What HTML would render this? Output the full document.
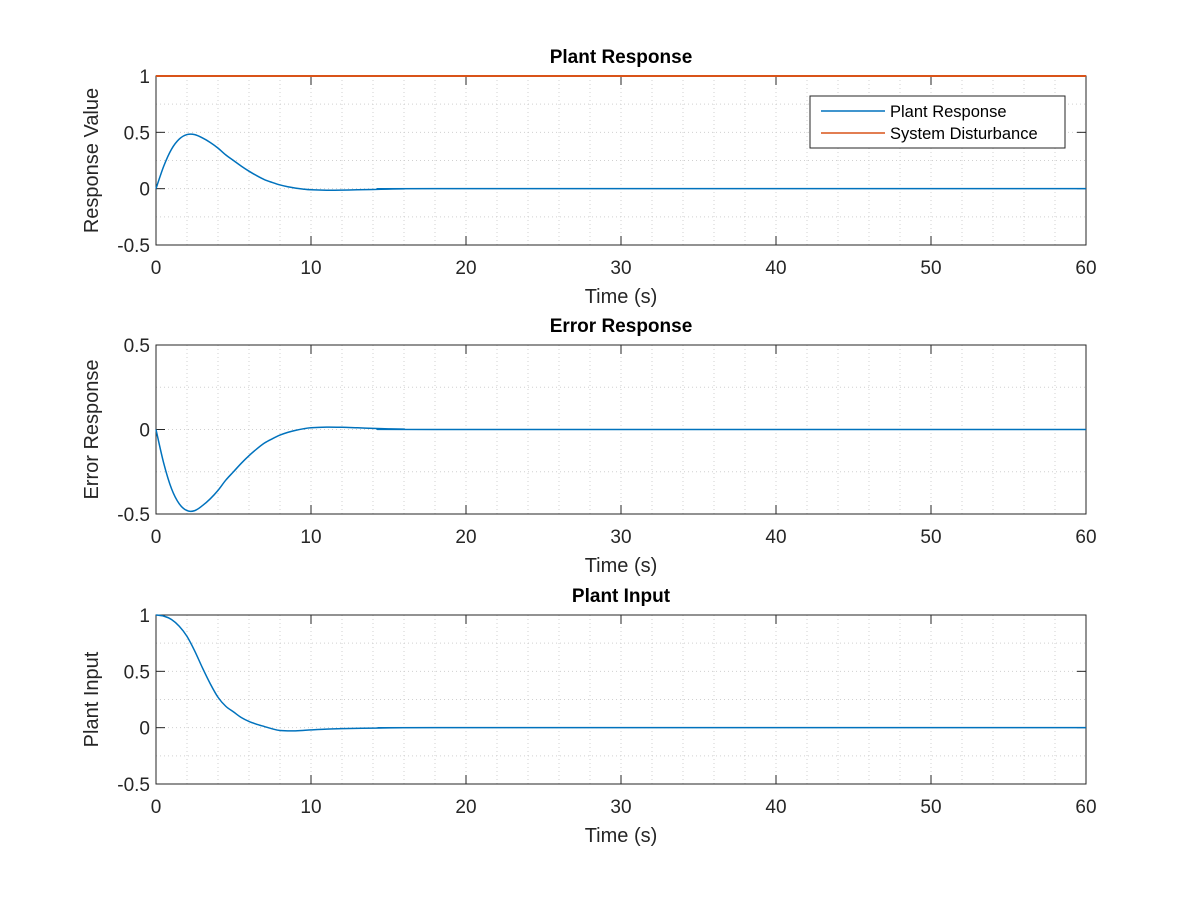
<!DOCTYPE html>
<html><head><meta charset="utf-8"><style>
body{margin:0;background:#fff}
svg{display:block;font-family:"Liberation Sans",Arial,sans-serif}
</style></head><body>
<svg id="fig" width="1200" height="900"></svg>
<script>
const timeValues=[0,0.5,1,1.5,2,2.5,3,3.5,4,4.5,5,5.5,6,6.5,7,7.5,8,8.5,9,9.5,10,11,12,13,14,15,16,18,60];
const plantResponse=[0,0.2,0.35,0.44,0.48,0.48,0.45,0.41,0.36,0.30,0.25,0.20,0.155,0.115,0.08,0.055,0.033,0.017,0.005,-0.004,-0.01,-0.014,-0.013,-0.01,-0.007,-0.004,-0.002,0,0];
const errorResponse=plantResponse.map(v=>-v);
const inputTime=[0,0.5,1,1.5,2,2.5,3,3.5,4,4.5,5,5.5,6,6.5,7,7.5,8,9,10,11,12,14,16,18,60];
const plantInput=[1,0.99,0.96,0.9,0.81,0.68,0.53,0.39,0.27,0.19,0.14,0.09,0.055,0.03,0.01,-0.01,-0.025,-0.028,-0.02,-0.013,-0.009,-0.004,-0.001,0,0];
const disturbanceTime=[0,60];
const disturbance=[1,1];
const xTicks=[0,10,20,30,40,50,60];
const yTicksA=[-0.5,0,0.5,1];
const yTicksB=[-0.5,0,0.5];

const NS="http://www.w3.org/2000/svg";
const svg=document.getElementById('fig');
function el(tag,attrs,parent){const e=document.createElementNS(NS,tag);for(const k in attrs)e.setAttribute(k,attrs[k]);(parent||svg).appendChild(e);return e;}
const L=156,R=1086;
function xs(t){return L+(t-0)/60*(R-L);}
function smoothPath(pts){
  let d='M'+pts[0][0].toFixed(2)+' '+pts[0][1].toFixed(2);
  for(let i=0;i<pts.length-1;i++){
    const p0=pts[Math.max(0,i-1)],p1=pts[i],p2=pts[i+1],p3=pts[Math.min(pts.length-1,i+2)];
    let c1x=p1[0]+(p2[0]-p0[0])/6,c1y=p1[1]+(p2[1]-p0[1])/6;
    let c2x=p2[0]-(p3[0]-p1[0])/6,c2y=p2[1]-(p3[1]-p1[1])/6;
    if(p2[0]-p1[0]>100){c1x=p1[0];c1y=p1[1];c2x=p2[0];c2y=p2[1];}
    d+=` C${c1x.toFixed(2)} ${c1y.toFixed(2)} ${c2x.toFixed(2)} ${c2y.toFixed(2)} ${p2[0].toFixed(2)} ${p2[1].toFixed(2)}`;
  }
  return d;
}
function panel(name,top,bottom,ymin,ymax,yTicks,title,ylabel,series){
  const g=el('g',{});
  
  
  const ys=v=>bottom-(v-ymin)/(ymax-ymin)*(bottom-top);
  for(let t=2;t<60;t+=2){const l=el('line',{x1:xs(t),x2:xs(t),y1:top,y2:bottom,stroke:'#d0d0d0','stroke-dasharray':'1 3','stroke-width':1},g);
    }
  for(let v=ymin+0.25;v<ymax-0.01;v+=0.25){const l=el('line',{x1:L,x2:R,y1:ys(v),y2:ys(v),stroke:'#d0d0d0','stroke-dasharray':'1 3','stroke-width':1},g);
    }
  const b=el('rect',{x:L,y:top,width:R-L,height:bottom-top,fill:'none',stroke:'#262626','stroke-width':1},g);
  
  xTicks.forEach(t=>{
    el('line',{x1:xs(t),x2:xs(t),y1:bottom,y2:bottom-9,stroke:'#262626'},g);
    el('line',{x1:xs(t),x2:xs(t),y1:top,y2:top+9,stroke:'#262626'},g);
    const tx=el('text',{x:xs(t),y:bottom+29,'font-size':19,fill:'#262626','text-anchor':'middle'},g);tx.textContent=t;
    
  });
  yTicks.forEach(v=>{
    el('line',{x1:L,x2:L+9,y1:ys(v),y2:ys(v),stroke:'#262626'},g);
    el('line',{x1:R,x2:R-9,y1:ys(v),y2:ys(v),stroke:'#262626'},g);
    const tx=el('text',{x:L-6,y:ys(v)+7,'font-size':19,fill:'#262626','text-anchor':'end'},g);tx.textContent=v;
    
  });
  series.forEach(s=>{
    const pts=s.t.map((t,i)=>[xs(t),ys(s.v[i])]);
    const p=el('path',{d:smoothPath(pts),fill:'none',stroke:s.color,'stroke-width':s.w||1.5},g);
    
    
  });
  const ti=el('text',{x:(L+R)/2,y:top-13,'font-size':19,'font-weight':'bold',fill:'#000','text-anchor':'middle'},g);ti.textContent=title;
  
  const xl=el('text',{x:(L+R)/2,y:bottom+58,'font-size':20,fill:'#262626','text-anchor':'middle'},g);xl.textContent='Time (s)';
  
  const cy=(top+bottom)/2;
  const yl=el('text',{x:98,y:cy,'font-size':20,fill:'#262626','text-anchor':'middle',transform:'rotate(-90 98 '+cy+')'},g);yl.textContent=ylabel;
  
}
panel('plant-response',76,245,-0.5,1,yTicksA,'Plant Response','Response Value',[
  {t:timeValues,v:plantResponse,color:'#0072bd',name:'plant-response-line'},
  {t:disturbanceTime,v:disturbance,color:'#d95319',name:'system-disturbance-line',w:2}]);
panel('error-response',345,514,-0.5,0.5,yTicksB,'Error Response','Error Response',[
  {t:timeValues,v:errorResponse,color:'#0072bd',name:'error-response-line'}]);
panel('plant-input',615,784,-0.5,1,yTicksA,'Plant Input','Plant Input',[
  {t:inputTime,v:plantInput,color:'#0072bd',name:'plant-input-line'}]);
const lg=el('g',{});


el('rect',{x:810,y:96,width:255,height:52,fill:'#fff',stroke:'#262626','stroke-width':1},lg);
[['Plant Response','#0072bd',111],['System Disturbance','#d95319',133]].forEach(([n,c,y])=>{
  const ln=el('line',{x1:821,x2:885,y1:y,y2:y,stroke:c,'stroke-width':1.5},lg);
  
  const t=el('text',{x:890,y:y+6,'font-size':16.5,fill:'#000'},lg);t.textContent=n;
  
});
</script>
</body></html>
